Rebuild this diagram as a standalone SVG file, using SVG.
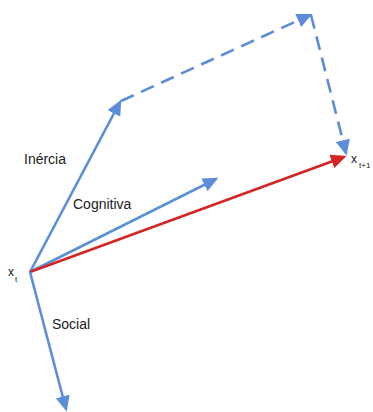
<svg xmlns="http://www.w3.org/2000/svg" width="373" height="412" viewBox="0 0 373 412">
<style>
text{font-family:"Liberation Sans",Arial,sans-serif;fill:#222}
.lbl{font-size:14px}
.var{font-size:12px}
.sub{font-size:8px}
.b{stroke:#5b8dd9;stroke-width:2.6;fill:none}
.d{stroke-dasharray:14 8}
.r{stroke:#d42424;stroke-width:2.6;fill:none}
</style>
<defs>
<marker id="ab" markerWidth="6" markerHeight="5.5" refX="5" refY="2.75" orient="auto" markerUnits="strokeWidth"><path d="M0,0 L6,2.75 L0,5.5 z" fill="#5b8dd9"/></marker>
<marker id="ar" markerWidth="6" markerHeight="5.5" refX="5" refY="2.75" orient="auto" markerUnits="strokeWidth"><path d="M0,0 L6,2.75 L0,5.5 z" fill="#d42424"/></marker>
</defs>
<rect width="373" height="412" fill="#fff"/>
<g id="connectors">
<line class="b" x1="30" y1="272" x2="120" y2="102" marker-end="url(#ab)"/>
<line class="b d" x1="121" y1="101" x2="310" y2="15" marker-end="url(#ab)"/>
<line class="b d" x1="311" y1="15" x2="346" y2="153" marker-end="url(#ab)"/>
<line class="b" x1="30" y1="272" x2="216" y2="179" marker-end="url(#ab)"/>
<line class="r" x1="30" y1="272" x2="344" y2="157" marker-end="url(#ar)"/>
<line class="b" x1="30" y1="272" x2="66" y2="409" marker-end="url(#ab)"/>
</g>
<g id="xt"><text class="var" x="8" y="276">x</text><text class="sub" x="15" y="282">t</text></g>
<g id="xt1"><text class="var" x="351" y="163">x</text><text class="sub" x="359" y="168">t+1</text></g>
<g id="inercia"><text class="lbl" x="24" y="164">Inércia</text></g>
<g id="cognitiva"><text class="lbl" x="73" y="209">Cognitiva</text></g>
<g id="social"><text class="lbl" x="52" y="329">Social</text></g>
</svg>
